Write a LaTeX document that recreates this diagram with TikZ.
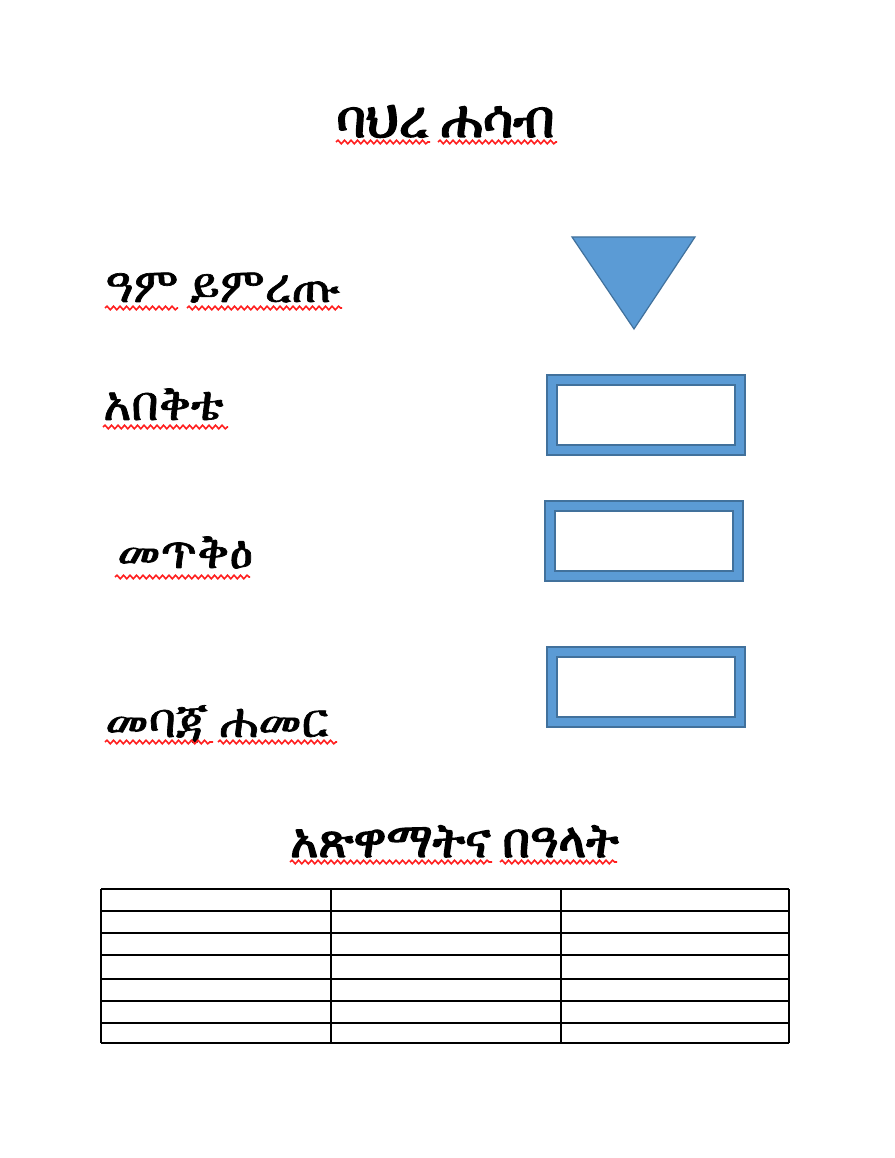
\documentclass[tikz,border=0pt]{standalone}
\usepackage{fontspec}
\usetikzlibrary{decorations.pathmorphing}
\IfFontExistsTF{FreeSerif}{%
 \newfontfamily\ethfont[FakeBold=1.4]{FreeSerif}\newfontfamily\ethhead[FakeBold=3]{FreeSerif}}{%
 \IfFontExistsTF{Abyssinica SIL}{%
 \newfontfamily\ethfont[FakeBold=1.4]{Abyssinica SIL}\newfontfamily\ethhead[FakeBold=3]{Abyssinica SIL}}{%
 \newfontfamily\ethfont{DejaVu Sans}\newfontfamily\ethhead{DejaVu Sans}}}
\definecolor{shapefill}{HTML}{5B9BD5}
\definecolor{shapeline}{HTML}{41719C}
\definecolor{squig}{HTML}{FF2020}
\tikzset{
  headtxt/.style={inner sep=0pt, anchor=base west, font=\ethhead\fontsize{52}{58}\selectfont},
  subheadtxt/.style={inner sep=0pt, anchor=base west, font=\ethhead\fontsize{48}{54}\selectfont},
  lbltxt/.style={inner sep=0pt, anchor=base west, font=\ethfont\fontsize{48}{54}\selectfont},
  wavy/.style={draw=squig, line width=1.6pt, decorate, decoration={snake, amplitude=1.8pt, segment length=6.5pt}},
  framebox/.style={fill=shapefill, draw=shapeline, line width=1.2pt, even odd rule},
  tri/.style={fill=shapefill, draw=shapeline, line width=1.2pt, line join=miter},
  grid/.style={draw=black, line width=1.8pt}
}
\begin{document}
\begin{tikzpicture}[x=1pt,y=-1pt]
\useasboundingbox[fill=white] (0,0) rectangle (894,1158);
% texts
\node[headtxt] (title) at (336,137) {ባህረ ሐሳብ};
\node[lbltxt] (year) at (105,302) {ዓም ይምረጡ};
\node[lbltxt] (abeqte) at (103,420) {አበቅቴ};
\node[lbltxt] (metqe) at (117,568) {መጥቅዕ};
\node[lbltxt] (mebaja) at (105,737) {መባጃ ሐመር};
\node[subheadtxt] (fasts) at (290,857) {አጽዋማትና በዓላት};
% spell-check underlines
\draw[wavy] (336,142) -- (430,142);
\draw[wavy] (438,142) -- (557,142);
\draw[wavy] (105,308) -- (178,308);
\draw[wavy] (187,308) -- (342,308);
\draw[wavy] (103,427) -- (228,427);
\draw[wavy] (115,577) -- (250,577);
\draw[wavy] (105,742) -- (213,742);
\draw[wavy] (218,742) -- (337,742);
\draw[wavy] (290,862) -- (492,862);
\draw[wavy] (500,862) -- (617,862);
% triangle
\coordinate (t1) at (572,237);
\coordinate (t2) at (695,237);
\coordinate (t3) at (634,329);
\draw[tri] (t1) -- (t2) -- (t3) -- cycle;
% frames
\draw[framebox] (547,375) rectangle (745,455) (557,385) rectangle (735,445);
\draw[framebox] (545,501) rectangle (743,581) (555,511) rectangle (733,571);
\draw[framebox] (547,647) rectangle (745,727) (557,657) rectangle (735,717);
% table
\foreach \yy in {889,911,933,955,979,1001,1023,1043} \draw[grid] (101,\yy) -- (789,\yy);
\foreach \xx in {101,331,561,789} \draw[grid] (\xx,889) -- (\xx,1043);
\end{tikzpicture}
\end{document}
